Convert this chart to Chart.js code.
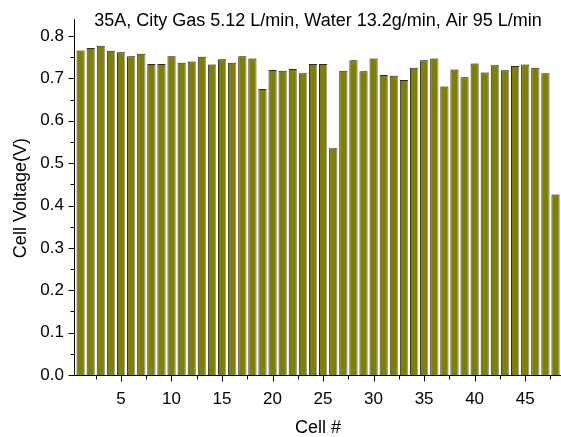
<!DOCTYPE html>
<html>
<head>
<meta charset="utf-8">
<script src="https://cdn.jsdelivr.net/npm/chart.js@4"></script>
<style>
  html, body { margin: 0; padding: 0; background: #fff; }
  #wrap { width: 561px; height: 437px; }
</style>
</head>
<body>
<div id="wrap"><canvas id="c" width="561" height="437"></canvas></div>
<script>
// Stack cell numbers and their measured voltages
const cells = [1,2,3,4,5,6,7,8,9,10,11,12,13,14,15,16,17,18,19,20,21,22,23,24,
               25,26,27,28,29,30,31,32,33,34,35,36,37,38,39,40,41,42,43,44,45,46,47,48];
const voltages = [0.766,0.772,0.777,0.765,0.762,0.752,0.758,0.734,0.734,0.752,0.737,0.740,
                  0.751,0.733,0.745,0.737,0.752,0.747,0.675,0.720,0.718,0.722,0.712,0.734,
                  0.734,0.535,0.718,0.743,0.717,0.747,0.708,0.706,0.696,0.725,0.743,0.747,
                  0.681,0.721,0.703,0.735,0.714,0.731,0.719,0.729,0.733,0.725,0.712,0.426];
const xTicks = [5,10,15,20,25,30,35,40,45];
const yTicks = [0.0,0.1,0.2,0.3,0.4,0.5,0.6,0.7,0.8];
const xMinorTicks = [2.5,7.5,12.5,17.5,22.5,27.5,32.5,37.5,42.5,47.5];
const yMinorTicks = [0.05,0.15,0.25,0.35,0.45,0.55,0.65,0.75];

const FONT = "'Liberation Sans', Arial, sans-serif";

// Grey drop shadow on the right side of each bar
const barShadow = {
  id: 'barShadow',
  beforeDatasetDraw(chart) {
    const ctx = chart.ctx;
    ctx.save();
    ctx.shadowColor = '#a8a8a8';
    ctx.shadowOffsetX = 2;
    ctx.shadowOffsetY = 0;
    ctx.shadowBlur = 0;
  },
  afterDatasetDraw(chart) { chart.ctx.restore(); }
};

// Axis lines with outward major/minor tick marks
const axisTicks = {
  id: 'axisTicks',
  afterDraw(chart) {
    const ctx = chart.ctx;
    const xs = chart.scales.x, ys = chart.scales.y;
    const a = chart.chartArea;
    ctx.save();
    ctx.strokeStyle = '#000';
    ctx.lineWidth = 1;
    ctx.beginPath();
    const lx = Math.round(a.left) - 0.5;
    const by = Math.round(a.bottom) + 0.5;
    ctx.moveTo(lx, a.top - 2); ctx.lineTo(lx, by);
    ctx.moveTo(lx, by); ctx.lineTo(a.right, by);
    xTicks.forEach(v => { const p = Math.round(xs.getPixelForValue(v)) + 0.5; ctx.moveTo(p, by); ctx.lineTo(p, by + 6); });
    xMinorTicks.forEach(v => { const p = Math.round(xs.getPixelForValue(v)) + 0.5; ctx.moveTo(p, by); ctx.lineTo(p, by + 4); });
    yTicks.forEach(v => { const p = Math.round(ys.getPixelForValue(v)) + 0.5; ctx.moveTo(lx, p); ctx.lineTo(lx - 6, p); });
    yMinorTicks.forEach(v => { const p = Math.round(ys.getPixelForValue(v)) + 0.5; ctx.moveTo(lx, p); ctx.lineTo(lx - 4, p); });
    ctx.stroke();
    ctx.restore();
  }
};

new Chart(document.getElementById('c'), {
  type: 'bar',
  data: {
    datasets: [{
      data: cells.map((c, i) => ({ x: c, y: voltages[i] })),
      backgroundColor: '#808000',
      borderColor: '#2a2a2a',
      borderWidth: 1,
      borderSkipped: 'bottom',
      categoryPercentage: 1.0,
      barPercentage: 0.8
    }]
  },
  options: {
    responsive: false,
    animation: false,
    devicePixelRatio: 1,
    layout: { padding: { left: 0, right: 0, top: 0, bottom: 0 } },
    plugins: {
      legend: { display: false },
      tooltip: { enabled: false },
      title: {
        display: true,
        fullSize: false,
        text: '35A, City Gas 5.12 L/min, Water 13.2g/min, Air 95 L/min',
        color: '#000',
        font: { family: FONT, size: 18, weight: 'normal' },
        padding: { top: 5, bottom: -10.6 }
      }
    },
    scales: {
      x: {
        type: 'linear',
        min: 0.45,
        max: 48.55,
        offset: false,
        afterBuildTicks: s => { s.ticks = xTicks.map(v => ({ value: v })); },
        afterFit: s => { s.height = 62; },
        grid: { display: false, drawTicks: false },
        border: { display: false },
        ticks: {
          color: '#000',
          font: { family: FONT, size: 17 },
          padding: 14,
          maxRotation: 0,
          autoSkip: false
        },
        title: {
          display: true,
          text: 'Cell #',
          color: '#000',
          font: { family: FONT, size: 18 },
          padding: { top: 0, bottom: -2 }
        }
      },
      y: {
        min: 0,
        max: 0.835,
        afterBuildTicks: s => { s.ticks = yTicks.map(v => ({ value: v })); },
        afterFit: s => { s.width = 75; },
        grid: { display: false, drawTicks: false },
        border: { display: false },
        ticks: {
          color: '#000',
          font: { family: FONT, size: 17 },
          padding: 11,
          callback: v => v.toFixed(1)
        },
        title: {
          display: true,
          text: 'Cell Voltage(V)',
          color: '#000',
          font: { family: FONT, size: 18 },
          padding: { top: 10, bottom: 0 }
        }
      }
    }
  },
  plugins: [barShadow, axisTicks]
});
</script>
</body>
</html>
